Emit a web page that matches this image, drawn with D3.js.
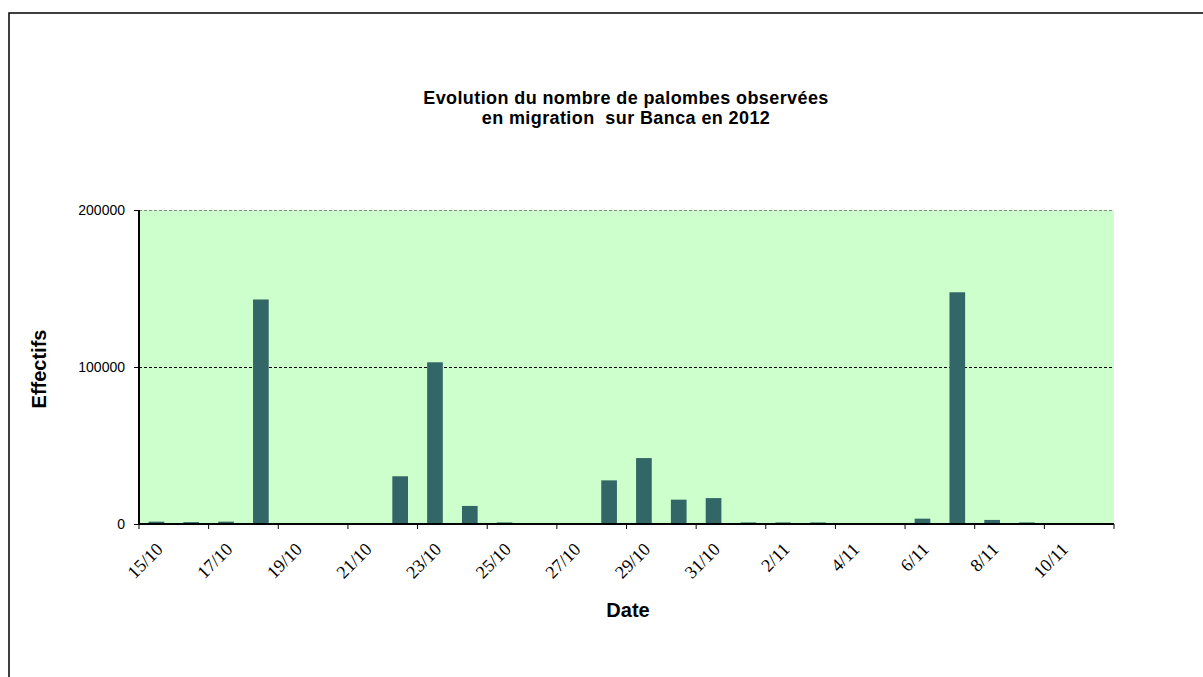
<!DOCTYPE html>
<html>
<head>
<meta charset="utf-8">
<script src="https://cdn.jsdelivr.net/npm/d3@7"></script>
<style>
  body { margin: 0; background: #fff; }
  svg { display: block; }
</style>
</head>
<body>
<svg id="chart" width="1203" height="677"></svg>
<script>
// Daily counts, 15/10 to 11/11 2012
var days = ["15/10","16/10","17/10","18/10","19/10","20/10","21/10","22/10","23/10","24/10",
            "25/10","26/10","27/10","28/10","29/10","30/10","31/10",
            "1/11","2/11","3/11","4/11","5/11","6/11","7/11","8/11","9/11","10/11","11/11"];
var counts = [1500, 1200, 1500, 143000, 0, 0, 0, 30400, 103000, 11500,
              1000, 0, 0, 27800, 42000, 15500, 16500,
              1000, 1000, 1000, 0, 0, 3400, 147600, 2600, 1000, 0, 0];
var yTicks = [0, 100000, 200000];
var tickLabels = ["15/10","17/10","19/10","21/10","23/10","25/10","27/10","29/10","31/10",
                  "2/11","4/11","6/11","8/11","10/11"];

var svg = d3.select("#chart");

// outer frame
svg.append("rect")
	.attr("x", 9).attr("y", 13)
	.attr("width", 1300).attr("height", 800)
	.attr("fill", "none").attr("stroke", "#000").attr("stroke-width", 1.5);

var margin = {left: 139, top: 210, right: 1114, bottom: 524};

var x = d3.scaleBand()
	.domain(days)
	.range([margin.left, margin.right])
	.paddingInner(0.55).paddingOuter(0.275);

var y = d3.scaleLinear()
	.domain([0, 200000])
	.range([margin.bottom, margin.top]);

// plot background
svg.append("rect")
	.attr("x", margin.left).attr("y", margin.top)
	.attr("width", margin.right - margin.left)
	.attr("height", margin.bottom - margin.top)
	.attr("fill", "#ccffcc");

// gridlines
svg.append("g").selectAll("line")
	.data(yTicks.slice(1))
	.enter().append("line")
	.attr("x1", margin.left).attr("x2", margin.right)
	.attr("y1", function(d) { return y(d) + 0.5; })
	.attr("y2", function(d) { return y(d) + 0.5; })
	.attr("stroke", function(d) { return d === 200000 ? "#888" : "#000"; })
	.attr("stroke-width", 1)
	.attr("stroke-dasharray", "3,2");

// bars
svg.append("g").selectAll("rect")
	.data(counts)
	.enter().append("rect")
	.attr("x", function(d, i) { return x(days[i]); })
	.attr("y", function(d) { return y(d); })
	.attr("width", x.bandwidth())
	.attr("height", function(d) { return margin.bottom - y(d); })
	.attr("fill", "#336666");

// y axis
var yAxis = svg.append("g")
	.attr("transform", "translate(" + margin.left + ",0)")
	.call(d3.axisLeft(y).tickValues(yTicks).tickSize(5).tickPadding(9).tickFormat(d3.format("d")));
yAxis.select(".domain").attr("stroke-width", 2).attr("d", "M0," + margin.top + "V" + margin.bottom);
yAxis.selectAll("text")
	.attr("font-family", "Liberation Sans, Arial, sans-serif")
	.attr("font-size", 14).attr("fill", "#000");

// x axis: ticks on category boundaries every 2 days
var step = x.step();
var boundaries = d3.range(0, days.length + 1, 2);
var xg = svg.append("g");
xg.append("line")
	.attr("x1", margin.left).attr("x2", margin.right)
	.attr("y1", margin.bottom).attr("y2", margin.bottom)
	.attr("stroke", "#000").attr("stroke-width", 2);
xg.selectAll("line.tick")
	.data(boundaries)
	.enter().append("line")
	.attr("class", "tick")
	.attr("x1", function(d) { return margin.left + d * step; })
	.attr("x2", function(d) { return margin.left + d * step; })
	.attr("y1", margin.bottom).attr("y2", margin.bottom + 5)
	.attr("stroke", "#000");
xg.selectAll("text")
	.data(tickLabels)
	.enter().append("text")
	.attr("transform", function(d) {
		var cx = x(d) + x.bandwidth() / 2 + 3;
		return "translate(" + cx + "," + (margin.bottom + 22) + ") rotate(-45)";
	})
	.attr("text-anchor", "end")
	.attr("dy", "0.35em")
	.attr("font-family", "Liberation Serif, Times New Roman, serif")
	.attr("font-size", 18)
	.text(function(d) { return d; });

// titles
var title = svg.append("text")
	.attr("x", 626).attr("y", 104)
	.attr("text-anchor", "middle")
	.attr("font-family", "Liberation Sans, Arial, sans-serif")
	.attr("font-weight", "bold").attr("font-size", 18)
	.attr("letter-spacing", 0.4);
title.append("tspan").attr("x", 626).text("Evolution du nombre de palombes observées");
title.append("tspan").attr("x", 626).attr("dy", 20).attr("xml:space", "preserve").text("en migration  sur Banca en 2012");

svg.append("text")
	.attr("x", 628).attr("y", 617)
	.attr("text-anchor", "middle")
	.attr("font-family", "Liberation Sans, Arial, sans-serif")
	.attr("font-weight", "bold").attr("font-size", 20)
	.text("Date");

svg.append("text")
	.attr("transform", "translate(46,369) rotate(-90)")
	.attr("text-anchor", "middle")
	.attr("font-family", "Liberation Sans, Arial, sans-serif")
	.attr("font-weight", "bold").attr("font-size", 20)
	.text("Effectifs");
</script>
</body>
</html>
